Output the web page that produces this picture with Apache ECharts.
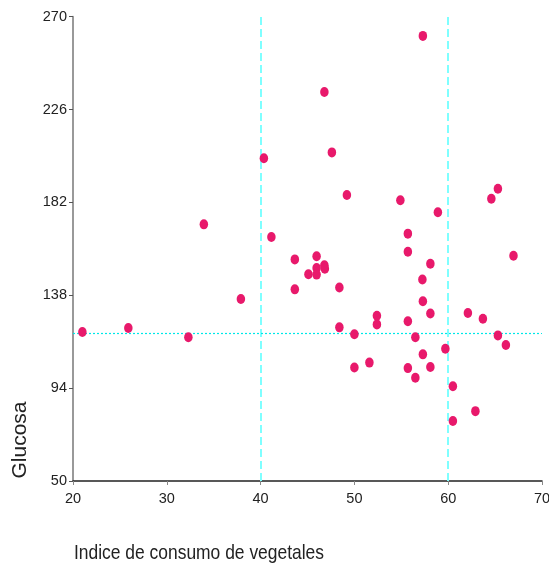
<!DOCTYPE html>
<html>
<head>
<meta charset="utf-8">
<script src="https://cdn.jsdelivr.net/npm/echarts@6/dist/echarts.min.js"></script>
<style>
html,body{margin:0;padding:0;background:#fff;}
#chart{width:549px;height:566px;}
</style>
</head>
<body>
<div id="chart"></div>
<script>
// Data
const vegetales = [21.0, 25.9, 32.3, 33.95, 37.9, 40.35, 41.15, 43.65, 43.65, 45.1,
  45.97, 45.97, 45.97, 46.8, 46.85, 46.8, 47.6, 48.4, 48.4, 49.2,
  50.0, 50.0, 51.6, 52.4, 52.4, 54.9, 55.7, 55.7, 55.7, 55.7,
  56.5, 56.5, 57.3, 57.25, 57.3, 57.3, 58.1, 58.1, 58.1, 58.9,
  59.7, 60.5, 60.5, 62.1, 62.9, 63.7, 64.6, 65.3, 65.3, 66.15, 66.96];
const glucosa = [120.6, 122.5, 118.1, 171.6, 136.2, 202.9, 165.6, 155.0, 140.8, 148.0,
  156.5, 150.9, 147.8, 152.2, 150.6, 234.3, 205.7, 141.7, 122.8, 185.5,
  119.5, 103.8, 106.1, 128.3, 124.2, 183.0, 167.2, 158.6, 125.7, 103.5,
  118.1, 98.9, 260.9, 145.5, 135.2, 110.0, 152.9, 129.4, 104.0, 177.3,
  112.7, 94.9, 78.4, 129.6, 83.1, 126.9, 183.7, 188.5, 119.0, 114.4, 156.7];
const yTicks = [50, 94, 138, 182, 226, 270];
const xTicks = [20, 30, 40, 50, 60, 70];
const vLines = [40, 60];
const hLine = 120;
const xTitle = 'Indice de consumo de vegetales';
const yTitle = 'Glucosa';

const points = vegetales.map((v, i) => [v, glucosa[i]]);
const sans = "'Liberation Sans', Arial, sans-serif";

const chart = echarts.init(document.getElementById('chart'), null, {renderer: 'canvas'});
chart.setOption({
  animation: false,
  backgroundColor: '#ffffff',
  grid: {left: 73, right: 7, top: 16.7, bottom: 85, containLabel: false, outerBoundsMode: 'none'},
  xAxis: {
    type: 'value', min: xTicks[0], max: xTicks[xTicks.length - 1], interval: 10,
    axisLine: {show: true, onZero: false, lineStyle: {color: '#222', width: 1.5}},
    axisTick: {show: true, length: 4, lineStyle: {color: '#888'}},
    axisLabel: {color: '#222', fontSize: 14.5, fontFamily: sans, margin: 10},
    splitLine: {show: false}
  },
  yAxis: {
    type: 'value', min: yTicks[0], max: yTicks[yTicks.length - 1],
    axisLine: {show: true, onZero: false, lineStyle: {color: '#999', width: 2}},
    axisTick: {show: true, length: 4, customValues: yTicks, lineStyle: {color: '#555'}},
    axisLabel: {color: '#222', fontSize: 14.5, fontFamily: sans, margin: 6, customValues: yTicks},
    splitLine: {show: false}
  },
  series: [{
    type: 'scatter',
    data: points,
    symbol: 'circle',
    symbolSize: [8.5, 10],
    itemStyle: {color: '#E8196B', opacity: 1},
    z: 3,
    markLine: {
      silent: true,
      symbol: 'none',
      label: {show: false},
      emphasis: {disabled: true},
      z: 2,
      data: [
        ...vLines.map(v => ({xAxis: v, lineStyle: {color: '#7FFFFF', width: 2, type: [8, 4], opacity: 1}})),
        {yAxis: hLine, lineStyle: {color: '#00E8E8', width: 1.2, type: [2, 2], opacity: 1}}
      ]
    }
  }],
  graphic: [
    {type: 'text', x: 74, y: 553, scaleX: 0.83,
     style: {text: xTitle, fontSize: 21, fontFamily: sans, fill: '#222', align: 'left', verticalAlign: 'middle'}},
    {type: 'text', x: 20, y: 440, rotation: Math.PI / 2,
     style: {text: yTitle, fontSize: 21, fontFamily: sans, fill: '#222',
             align: 'center', verticalAlign: 'middle'}}
  ]
});
</script>
</body>
</html>
